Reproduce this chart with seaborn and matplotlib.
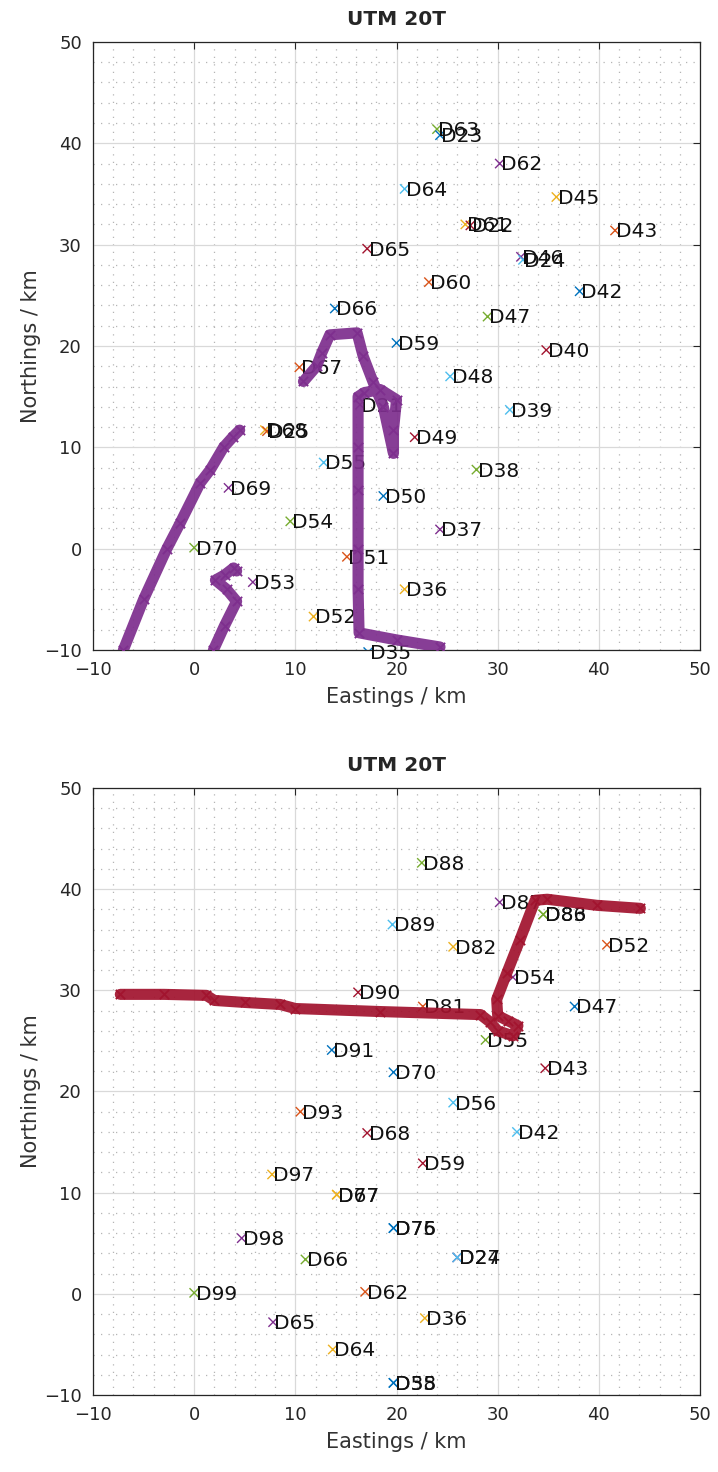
import matplotlib
matplotlib.use("Agg")
import matplotlib.pyplot as plt
import seaborn as sns
import pandas as pd
from matplotlib.ticker import MultipleLocator

sns.set_style("white")
plt.rcParams['font.family'] = ['DejaVu Sans']

# MATLAB default colour order
C = {"blue": "#0072BD", "orange": "#D95319", "yellow": "#EDB120", "purple": "#7E2F8E",
     "green": "#77AC30", "lblue": "#4DBEEE", "dred": "#A2142F"}

# ---------------- top panel: receivers ----------------
top_names = ["D63", "D23", "D62", "D64", "D45", "D61", "D22", "D43", "D65", "D46", "D24",
             "D60", "D42", "D66", "D47", "D59", "D40", "D67", "D48", "D39", "D21", "D68",
             "D25", "D49", "D55", "D38", "D69", "D50", "D54", "D37", "D70", "D51", "D53",
             "D36", "D52", "D35"]
top_x = [24.0, 24.3, 30.2, 20.8, 35.8, 26.8, 27.3, 41.6, 17.1, 32.3, 32.5,
         23.2, 38.1, 13.9, 29.0, 20.0, 34.8, 10.4, 25.3, 31.2, 16.4, 7.0,
         7.2, 21.8, 12.8, 27.9, 3.4, 18.7, 9.5, 24.3, 0.0, 15.1, 5.8,
         20.8, 11.8, 17.2]
top_y = [41.4, 40.8, 38.0, 35.5, 34.7, 32.0, 31.9, 31.4, 29.6, 28.8, 28.5,
         26.3, 25.4, 23.7, 22.9, 20.3, 19.6, 17.9, 17.0, 13.7, 14.2, 11.7,
         11.6, 11.0, 8.5, 7.8, 6.0, 5.2, 2.7, 1.9, 0.1, -0.8, -3.3,
         -4.0, -6.7, -10.2]
top_cols = ["green", "blue", "purple", "lblue", "yellow", "yellow", "dred", "orange", "dred", "purple", "lblue",
            "orange", "blue", "blue", "green", "blue", "dred", "orange", "lblue", "lblue", "purple", "yellow",
            "orange", "dred", "lblue", "green", "purple", "blue", "green", "purple", "green", "orange", "purple",
            "yellow", "yellow", "blue"]

# top panel track (three pieces)
trkA_x = [-7.0, -5.0, -2.7, -1.4, 0.6, 1.6, 2.9, 3.8, 4.5]
trkA_y = [-10.0, -5.0, 0.0, 2.5, 6.5, 7.8, 10.0, 11.0, 11.7]
trkB_x = [1.9, 3.0, 4.2, 3.2, 2.1, 3.0, 3.9, 4.2]
trkB_y = [-10.0, -7.6, -5.2, -4.0, -3.1, -2.6, -1.9, -2.2]
trkC_x = [24.3, 20.0, 16.3, 16.2, 16.2, 16.2, 16.2, 16.2, 16.8, 18.4, 20.0, 19.7, 19.7,
          18.7, 17.7, 16.7, 16.1, 13.4, 12.6, 12.1, 10.8]
trkC_y = [-9.7, -9.0, -8.3, -4.0, 0.0, 5.8, 10.0, 15.0, 15.4, 15.7, 14.7, 11.7, 9.4,
          14.0, 16.4, 19.0, 21.3, 21.1, 19.3, 18.0, 16.5]

# ---------------- bottom panel: receivers ----------------
bot_names = ["D88", "D87", "D86", "D83", "D89", "D82", "D52", "D54", "D90", "D47", "D81",
             "D55", "D43", "D56", "D42", "D59", "D91", "D70", "D93", "D68", "D97", "D67",
             "D77", "D76", "D75", "D98", "D66", "D24", "D27", "D99", "D62", "D65", "D36",
             "D64", "D35", "D58"]
bot_x = [22.5, 30.2, 34.5, 34.5, 19.6, 25.6, 40.8, 31.5, 16.2, 37.6, 22.6,
         28.8, 34.7, 25.6, 31.9, 22.6, 13.6, 19.7, 10.5, 17.1, 7.7, 14.1,
         14.1, 19.7, 19.7, 4.7, 11.0, 26.0, 26.0, 0.0, 16.9, 7.8, 22.8,
         13.7, 19.7, 19.7]
bot_y = [42.6, 38.7, 37.5, 37.5, 36.5, 34.3, 34.5, 31.3, 29.8, 28.4, 28.4,
         25.1, 22.3, 18.9, 16.0, 12.9, 24.1, 21.9, 18.0, 15.9, 11.8, 9.8,
         9.8, 6.5, 6.5, 5.5, 3.4, 3.6, 3.6, 0.1, 0.2, -2.8, -2.4,
         -5.5, -8.8, -8.8]
bot_cols = ["green", "purple", "green", "green", "lblue", "yellow", "orange", "purple", "dred", "blue", "orange",
            "green", "dred", "lblue", "lblue", "dred", "blue", "blue", "orange", "dred", "yellow", "yellow",
            "yellow", "blue", "blue", "purple", "green", "purple", "lblue", "green", "orange", "purple", "yellow",
            "yellow", "blue", "blue"]

trkD_x = [-7.3, -3.0, 1.2, 2.0, 5.0, 8.5, 10.0, 18.4, 28.3, 29.2, 30.0, 31.5, 32.0, 31.0,
          30.0, 29.9, 30.9, 32.2, 33.7, 34.9, 39.8, 44.1]
trkD_y = [29.6, 29.6, 29.5, 29.0, 28.8, 28.6, 28.2, 27.9, 27.6, 26.9, 26.0, 25.5, 26.5, 27.0,
          27.5, 29.1, 31.7, 35.0, 38.9, 39.0, 38.4, 38.1]


def style_axes(ax):
    ax.set_xlim(-10, 50)
    ax.set_ylim(-10, 50)
    ax.xaxis.set_major_locator(MultipleLocator(10))
    ax.yaxis.set_major_locator(MultipleLocator(10))
    ax.xaxis.set_minor_locator(MultipleLocator(2))
    ax.yaxis.set_minor_locator(MultipleLocator(2))
    ax.grid(True, which="major", color="#d9d9d9", lw=0.9)
    ax.grid(True, which="minor", color="#b5b5b5", lw=0.9, linestyle=(0, (1, 5)))
    ax.set_axisbelow(True)
    ax.tick_params(which="major", direction="in", length=5, width=0.8, top=True, right=True,
                   labelsize=13, colors="#262626", pad=8)
    ax.tick_params(which="minor", length=0, top=True, right=True)
    for s in ax.spines.values():
        s.set_color("#262626")
        s.set_linewidth(0.9)
    ax.set_xlabel("Eastings / km", fontsize=15, color="#333333", labelpad=6)
    ax.set_ylabel("Northings / km", fontsize=15, color="#333333", labelpad=2)
    ax.set_title("UTM 20T", fontsize=14.5, fontweight="bold", pad=12)


def draw_points(ax, names, xs, ys, cols):
    df = pd.DataFrame({"x": xs, "y": ys, "c": cols})
    sns.scatterplot(data=df, x="x", y="y", hue="c", palette=C, marker="x", s=45,
                    linewidth=1.0, legend=False, ax=ax, zorder=3)
    for n, x, y in zip(names, xs, ys):
        ax.annotate(n, (x, y), xytext=(1, -1), textcoords="offset points",
                    ha="left", va="center", fontsize=14.5, color="#111111",
                    annotation_clip=False, zorder=4)


def draw_track(ax, xs, ys, color):
    df = pd.DataFrame({"x": xs, "y": ys})
    sns.lineplot(data=df, x="x", y="y", sort=False, estimator=None, color=color,
                 lw=8, alpha=0.93, ax=ax, zorder=5, solid_capstyle="round",
                 solid_joinstyle="round")
    sns.scatterplot(data=df, x="x", y="y", color=color, marker="x", s=45,
                    linewidth=1.3, legend=False, ax=ax, zorder=5)


fig = plt.figure(figsize=(7.18, 14.72), dpi=100)
ax1 = fig.add_axes([0.1295, 0.5584, 0.8455, 0.4131])
ax2 = fig.add_axes([0.1295, 0.0523, 0.8455, 0.4124])

draw_points(ax1, top_names, top_x, top_y, top_cols)
draw_track(ax1, trkA_x, trkA_y, C["purple"])
draw_track(ax1, trkB_x, trkB_y, C["purple"])
draw_track(ax1, trkC_x, trkC_y, C["purple"])
style_axes(ax1)

draw_points(ax2, bot_names, bot_x, bot_y, bot_cols)
draw_track(ax2, trkD_x, trkD_y, C["dred"])
style_axes(ax2)

fig.savefig("out.png", dpi=100)
